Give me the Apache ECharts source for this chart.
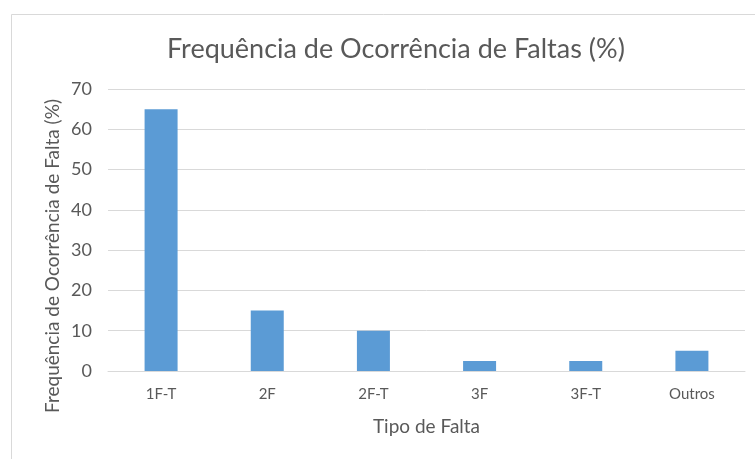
<!DOCTYPE html>
<html>
<head>
<meta charset="utf-8">
<script src="https://cdn.jsdelivr.net/npm/echarts@6/dist/echarts.min.js"></script>
<style>html,body{margin:0;padding:0;background:#fff}#c{width:755px;height:459px}</style>
</head>
<body>
<div id="c"></div>
<script>
const categories = ['1F-T', '2F', '2F-T', '3F', '3F-T', 'Outros'];
const values = [65, 15, 10, 2.5, 2.5, 5];
const yTicks = [0, 10, 20, 30, 40, 50, 60, 70];
const titleText = 'Frequência de Ocorrência de Faltas (%)';
const xName = 'Tipo de Falta';
const yName = 'Frequência de Ocorrência de Falta (%)';

const font = 'Lato, "Open Sans", sans-serif';
const chart = echarts.init(document.getElementById('c'), null, {renderer: 'canvas'});
chart.setOption({
  animation: false,
  backgroundColor: '#fff',
  graphic: [{
    type: 'rect', left: 9, top: 12, shape: {width: 760, height: 460},
    style: {fill: 'none', stroke: '#D9D9D9', lineWidth: 1}, silent: true
  }, {
    type: 'text', x: 53, y: 256, rotation: Math.PI / 2, silent: true,
    style: {text: yName, fontFamily: font, fontSize: 19, fill: '#595959', align: 'center', verticalAlign: 'middle'}
  }],
  title: {
    text: titleText, left: 162, top: 31,
    textStyle: {fontFamily: font, fontSize: 27, fontWeight: 'normal', color: '#595959'}
  },
  grid: {left: 108, right: 10, top: 89, bottom: 88, containLabel: false},
  xAxis: {
    type: 'category', data: categories,
    name: xName, nameLocation: 'middle', nameGap: 46,
    nameTextStyle: {fontFamily: font, fontSize: 19, color: '#595959'},
    axisLine: {lineStyle: {color: '#D9D9D9'}},
    axisTick: {show: false},
    axisLabel: {fontFamily: font, fontSize: 15, color: '#595959', margin: 16}
  },
  yAxis: {
    type: 'value', min: yTicks[0], max: yTicks[yTicks.length - 1], interval: 10,
    axisLine: {show: false}, axisTick: {show: false},
    splitLine: {lineStyle: {color: '#D9D9D9'}},
    axisLabel: {fontFamily: font, fontSize: 18, color: '#595959', margin: 16}
  },
  series: [{
    type: 'bar', data: values, barWidth: 33,
    itemStyle: {color: '#5B9BD5'}
  }]
});
</script>
</body>
</html>
